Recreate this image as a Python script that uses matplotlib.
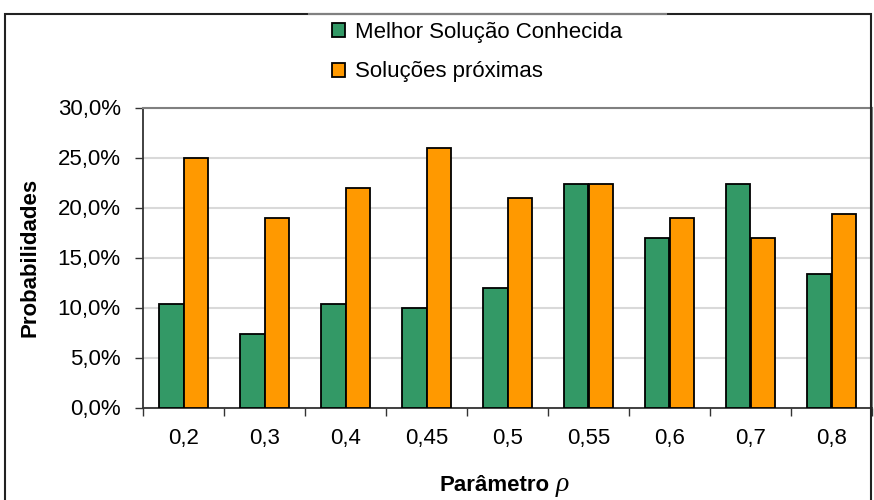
import matplotlib.pyplot as plt
import numpy as np
from matplotlib.patches import Patch, Rectangle
from matplotlib.lines import Line2D

plt.rcParams['font.family'] = ['Liberation Sans', 'DejaVu Sans']

# parameter values and probabilities (in %)
rho_labels = ['0,2', '0,3', '0,4', '0,45', '0,5', '0,55', '0,6', '0,7', '0,8']
melhor = [10.4, 7.4, 10.4, 10.0, 12.0, 22.4, 17.0, 22.4, 13.4]
proximas = [25.0, 19.0, 22.0, 26.0, 21.0, 22.4, 19.0, 17.0, 19.4]
y_ticks = [0, 5, 10, 15, 20, 25, 30]
y_tick_labels = ['0,0%', '5,0%', '10,0%', '15,0%', '20,0%', '25,0%', '30,0%']

green = '#339966'
orange = '#ff9900'
fs = 16

W, H = 874, 500
fig = plt.figure(figsize=(W / 100, H / 100), dpi=100)
ax = fig.add_axes([143 / W, 1 - 407.5 / H, (872 - 143) / W, 300 / H])

x = np.arange(len(rho_labels))
bw = 0.3
ax.bar(x - bw / 2, melhor, bw, color=green, edgecolor='black', linewidth=1.3, zorder=3)
ax.bar(x + bw / 2, proximas, bw, color=orange, edgecolor='black', linewidth=1.3, zorder=3)

ax.set_xlim(-0.5, len(rho_labels) - 0.5)
ax.set_ylim(0, 30)
ax.set_yticks(y_ticks)
ax.set_yticklabels(y_tick_labels, fontsize=fs)
ax.yaxis.grid(True, color='#d9d9d9', linewidth=1.5, zorder=0)
ax.set_axisbelow(True)
ax.tick_params(axis='y', direction='out', length=6, width=1, color='#333333', pad=10)

ax.set_xticks(x)
ax.set_xticklabels(rho_labels, fontsize=fs)
ax.set_xticks(np.arange(len(rho_labels) + 1) - 0.5, minor=True)
ax.tick_params(axis='x', which='major', length=0, pad=15)
ax.tick_params(axis='x', which='minor', direction='out', length=6, width=1, color='#333333')

for s in ['left', 'bottom']:
    ax.spines[s].set_color('#333333')
    ax.spines[s].set_linewidth(1.3)
for s in ['top', 'right']:
    ax.spines[s].set_color('#808080')
    ax.spines[s].set_linewidth(1.5)

fig.text(30 / W, 1 - 257 / H, 'Probabilidades', rotation=90, fontsize=fs,
         fontweight='bold', ha='center', va='center')
fig.text(550 / W, 1 - 491 / H, 'Parâmetro', fontsize=fs, fontweight='bold',
         ha='right', va='baseline')
fig.text(556 / W, 1 - 491 / H, 'ρ', fontsize=20, style='italic',
         family=['Liberation Serif', 'DejaVu Serif'], ha='left', va='baseline')

handles = [Patch(facecolor=green, edgecolor='black', linewidth=1.3),
           Patch(facecolor=orange, edgecolor='black', linewidth=1.3)]
fig.legend(handles, ['Melhor Solução Conhecida', 'Soluções próximas'],
           loc='center left', bbox_to_anchor=(321 / W, 1 - 52 / H), frameon=False,
           fontsize=fs, handlelength=0.6, handleheight=0.6, handletextpad=0.45,
           labelspacing=0.85, borderpad=0)

# outer frame of the chart area
fig.patches.append(Rectangle((5 / W, -0.05), (871 - 5) / W, 1.05 - 14 / H,
                             transform=fig.transFigure, fill=False,
                             edgecolor='#222222', linewidth=1.5))
fig.lines.append(Line2D([309 / W, 666 / W], [1 - 14 / H, 1 - 14 / H],
                        transform=fig.transFigure, color='#808080', linewidth=1.5))

fig.savefig('out.png', dpi=100)
